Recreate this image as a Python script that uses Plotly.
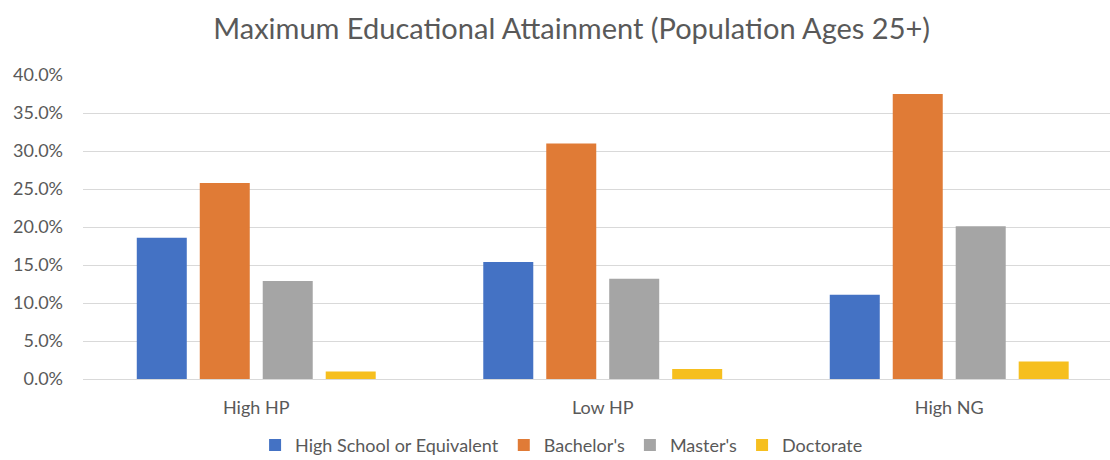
import plotly.graph_objects as go

categories = ["High HP", "Low HP", "High NG"]
series_names = ["High School or Equivalent", "Bachelor's", "Master's", "Doctorate"]
high_school = [0.186, 0.154, 0.111]
bachelors = [0.258, 0.310, 0.375]
masters = [0.129, 0.132, 0.201]
doctorate = [0.010, 0.013, 0.023]
colors = ["#4472C4", "#E07B36", "#A5A5A5", "#F6BF1F"]

values = [high_school, bachelors, masters, doctorate]

fig = go.Figure()
for name, vals, col in zip(series_names, values, colors):
    fig.add_trace(go.Bar(x=categories, y=vals, name=name, marker=dict(color=col, line=dict(width=0))))

font_family = "Lato, 'Open Sans', sans-serif"
txt = "#595959"

fig.update_layout(
    width=1110, height=460,
    margin=dict(l=83, r=0, t=75, b=81, autoexpand=False),
    paper_bgcolor="white", plot_bgcolor="white",
    barmode="group", bargap=0.273, bargroupgap=0.206,
    title=dict(text="Maximum Educational Attainment (Population Ages 25+)",
               x=0.515, xanchor="center", y=0.937, yanchor="middle",
               font=dict(family=font_family, size=29, color=txt)),
    font=dict(family=font_family, size=18, color=txt),
    legend=dict(orientation="h", x=0.466, xanchor="center", yref="container", y=0.032, yanchor="middle",
                font=dict(size=18, color=txt), itemwidth=30, traceorder="normal"),
    xaxis=dict(range=[-0.5, 2.464], showgrid=False, showline=False, ticks="",
               tickfont=dict(size=18, color=txt), ticklabelstandoff=16),
    yaxis=dict(range=[0, 0.4], dtick=0.05, tickformat=".1%", showgrid=True,
               gridcolor="#D9D9D9", gridwidth=1, zeroline=True, zerolinecolor="#D9D9D9",
               zerolinewidth=1, showline=False, ticks="", tickfont=dict(size=18, color=txt),
               ticklabelstandoff=19),
)

fig.write_html("out.html")
